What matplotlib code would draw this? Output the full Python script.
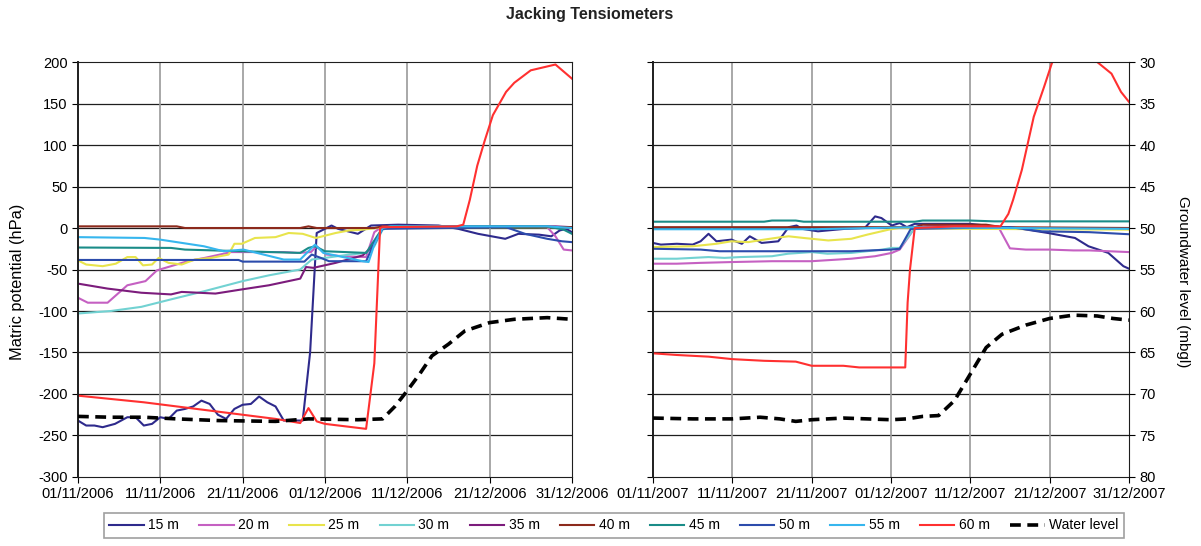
import matplotlib
matplotlib.use("Agg")
import matplotlib.pyplot as plt

plt.rcParams['font.family'] = ['Liberation Sans', 'DejaVu Sans']
plt.rcParams['axes.unicode_minus'] = False

# day offsets from 01/11 on the x axis, values in hPa (tensiometers) or mbgl (water level)
tick_days = [0, 10, 20, 30, 40, 50, 60]
ticks_2006 = ["01/11/2006", "11/11/2006", "21/11/2006", "01/12/2006",
              "11/12/2006", "21/12/2006", "31/12/2006"]
ticks_2007 = ["01/11/2007", "11/11/2007", "21/11/2007", "01/12/2007",
              "11/12/2007", "21/12/2007", "31/12/2007"]
hpa_ticks = [-300, -250, -200, -150, -100, -50, 0, 50, 100, 150, 200]
mbgl_ticks = [30, 35, 40, 45, 50, 55, 60, 65, 70, 75, 80]

labels = ["15 m", "20 m", "25 m", "30 m", "35 m", "40 m", "45 m", "50 m", "55 m", "60 m"]
colors = ["#2e2a8c", "#c560c2", "#e8e44c", "#72d2d2", "#7c1c7c",
          "#8c2a1c", "#1a8c88", "#2c4cac", "#36b6ee", "#ff3030"]

# ---- 2006 ----
p15_2006 = [(0, -232), (1, -238), (2, -238), (3, -240), (4.5, -236), (6, -228), (7, -228),
            (8, -238), (9, -236), (10, -228), (11, -230), (12, -220), (13, -218), (14, -215),
            (15, -208), (16, -212), (17, -225), (18, -230), (19, -218), (20, -213), (21, -212),
            (22, -203), (23, -210), (24, -215), (25, -232), (27.3, -232), (28.2, -150),
            (29, -6), (30.8, 3), (31.6, -1), (34, -7), (35.6, 3), (38.9, 4), (43.8, 3),
            (46.2, -1), (48.6, -7), (51.9, -13), (53.5, -7), (56, -8), (57.5, -10),
            (58.5, -3), (59.3, -1), (60, -5)]
p20_2006 = [(0, -84), (1.2, -90), (3.6, -90), (6, -69), (8.2, -64), (9.6, -51), (11.3, -46),
            (13.3, -40), (15.4, -36), (18.6, -29), (21.9, -29), (25, -29), (26.7, -30),
            (28.3, -29), (29, -22), (30.2, -32), (32, -34), (35, -35), (36, -5), (37, 2),
            (45, 2), (52, 2), (57, 1), (58, -10), (59, -26), (60, -27)]
p25_2006 = [(0, -39), (1, -44), (3, -46), (4.6, -43), (6, -35), (7, -35), (7.9, -45),
            (9, -44), (9.8, -36), (11, -42), (12.6, -44), (14.2, -38), (16.2, -36),
            (18.3, -32), (19, -19), (19.9, -19), (21.5, -12), (24, -11), (25.6, -6),
            (27.3, -7), (28.9, -12), (31.3, -6), (32.9, -3), (34.6, -2), (37, 1), (60, 1)]
p30_2006 = [(0, -103), (4, -100), (7.7, -95), (11.3, -86), (15.4, -76), (20, -64),
            (23.2, -57), (27, -50), (28.4, -38), (30, -36), (33, -32), (35, -30), (36, -22),
            (37, -2), (38, 1), (60, 1)]
p35_2006 = [(0, -67), (3.6, -73), (7.7, -78), (11.3, -80), (12.6, -77), (16.7, -79),
            (19.9, -74), (23.2, -69), (27, -61), (27.7, -47), (28.6, -48), (31.3, -42),
            (34.6, -33), (36, -20), (37, 0), (38, 2), (58, 2), (60, 1)]
p40_2006 = [(0, 2), (12, 2), (13, 0), (27, 0), (28, 2), (29, 0), (36, 0), (37, 2), (60, 1)]
p45_2006 = [(0, -23.5), (11.3, -24), (13, -26), (20, -28), (27, -30), (28, -24), (28.8, -22),
            (30, -28), (35, -30), (36, -15), (37, 0), (38, 2), (57, 2), (59, -2), (60, -7)]
p50_2006 = [(0, -38.5), (19.5, -38.5), (20, -40.5), (27.5, -40.5), (28.4, -32), (29.5, -36),
            (30.5, -40), (35, -40), (36, -18), (37, -1), (52, 1), (54.3, -7), (57, -13),
            (58.8, -16), (60, -17)]
p55_2006 = [(0, -11), (8.1, -12), (10, -14), (15.3, -22), (17.7, -28), (20.1, -26),
            (25, -38), (27, -38), (28.8, -20), (29.8, -30), (34.6, -40), (35.3, -41),
            (36, -20), (37, 0), (38, 2), (57, 2), (60, 0)]
p60_2006 = [(0, -202), (3, -205), (8, -210), (12, -215), (16, -220), (20, -225), (24, -230),
            (27, -235), (28, -217), (29, -233), (30, -236), (35, -242), (36, -163),
            (36.7, 0), (37, 1), (46, 2), (46.8, 4), (47.6, 34), (48.5, 75), (49.4, 105),
            (50.4, 136), (52, 164), (53, 175), (55, 190), (58, 197), (60, 180)]
water_2006 = [(0, 72.7), (4, 72.8), (8, 72.8), (12, 73.0), (17, 73.2), (24, 73.3), (28, 73.0),
              (34, 73.1), (37, 73.0), (38.5, 71.5), (40, 69.6), (41.5, 67.6), (43, 65.4),
              (45, 64.0), (47, 62.4), (50, 61.4), (53, 61.0), (57, 60.8), (60, 61.0)]

# ---- 2007 ----
p15_2007 = [(0, -18), (1, -20), (3, -19), (5, -20), (6, -16), (7, -7), (8, -16), (9.9, -14),
            (11.2, -19), (12.2, -10), (13.7, -18), (15.8, -16), (17.1, 1), (18.1, 3),
            (18.8, -1), (20.8, -4), (24.2, -1), (26.7, 0), (28, 14), (28.8, 12), (30.1, 3),
            (31.1, 6), (32, 1), (33, 5), (40, 5), (45, 0), (46.5, -1), (49.8, -6),
            (53.2, -12), (54.9, -22), (57.4, -30), (59.3, -46), (60, -49)]
p20_2007 = [(0, -43), (3, -43), (6, -42), (10, -41), (15, -40), (20, -40), (25, -37),
            (28, -34), (30.1, -30), (31.1, -26), (33, 0), (35, 3), (43.5, 2), (45, -24.5),
            (47, -26), (50, -26), (53, -27), (55, -27), (60, -29)]
p25_2007 = [(0, -23), (5, -22), (8, -19), (9.9, -16), (12, -17), (14, -14), (15.8, -11.5),
            (17.1, -10), (19, -12), (22.1, -15), (25, -13), (27, -8), (29.7, -2), (31, 0),
            (40, -1), (60, -2)]
p30_2007 = [(0, -37), (3, -37), (7, -35), (9, -36), (11, -35), (15, -34), (17, -31),
            (20, -29), (22, -31), (25, -30), (28.9, -26), (30.1, -24), (31.1, -24),
            (33, 0), (60, 0)]
p40_2007 = [(0, 1), (33, 1), (34, 4), (42, 4), (44, 1), (60, 0)]
p45_2007 = [(0, 7.6), (14, 7.6), (15, 9), (18, 9), (19, 7.6), (33, 7.6), (34, 9), (40, 9),
            (43, 8), (60, 8)]
p50_2007 = [(0, -25), (6, -26), (8.4, -28), (25, -28), (30, -26), (31.1, -25), (32.5, -1),
            (45, 1), (49, -4), (55, -5), (60, -7.5)]
p55_2007 = [(0, -1.5), (20, -1.5), (33, 1), (45, 0), (60, -1)]
p60_2007 = [(0, -151), (3, -153), (7, -155), (10, -158), (14, -160), (18, -161), (20, -166),
            (24, -166), (26, -168), (31.8, -168), (32.1, -90), (32.4, -50), (33, 0), (38, 2),
            (43.8, 2), (44.8, 17), (45.4, 34), (46.5, 70), (48, 134), (49.3, 170),
            (50.3, 199), (52, 220), (54, 225), (56, 200), (57.8, 186), (59, 164), (60, 152)]
water_2007 = [(0, 72.9), (5, 73.0), (10, 73.0), (13.5, 72.8), (16, 73.0), (18, 73.3),
              (20, 73.1), (24, 72.9), (30, 73.1), (32, 73.0), (34, 72.7), (36, 72.6),
              (38, 70.8), (40, 67.6), (42, 64.4), (44, 62.8), (47, 61.7), (50, 60.9),
              (53, 60.5), (56, 60.6), (58, 60.9), (60, 61.1)]

series_2006 = [p15_2006, p20_2006, p25_2006, p30_2006, p35_2006,
               p40_2006, p45_2006, p50_2006, p55_2006, p60_2006]
series_2007 = [p15_2007, p20_2007, p25_2007, p30_2007, None,
               p40_2007, p45_2007, p50_2007, p55_2007, p60_2007]


def draw_panel(ax, series, water, ticklabels, left_labels, right_labels):
    ax.set_xlim(0, 60)
    ax.set_ylim(-300, 200)
    ax.set_xticks(tick_days)
    ax.set_xticklabels(ticklabels)
    ax.set_yticks(hpa_ticks)
    for v in hpa_ticks[1:-1]:
        ax.axhline(v, color="#1e1e1e", lw=0.9, zorder=0.5)
    for d in tick_days[1:-1]:
        ax.axvline(d, color="#9a9a9a", lw=1.2, zorder=0.5)
    ax.tick_params(direction="out", length=4, width=0.8, labelsize=10.5)
    if not left_labels:
        ax.tick_params(axis="y", labelleft=False)
    for sp in ax.spines.values():
        sp.set_color("#1e1e1e")
    ax.spines["left"].set_linewidth(1.4)

    for pts, c, lab in zip(series, colors, labels):
        if pts is None:
            continue
        xs, ys = zip(*pts)
        ax.plot(xs, ys, color=c, lw=1.5, label=lab)

    ax2 = ax.twinx()
    ax2.set_ylim(80, 30)
    ax2.set_yticks(mbgl_ticks)
    xs, ys = zip(*water)
    ax2.plot(xs, ys, color="black", lw=2.6, dashes=(3, 1.8), label="Water level")
    ax2.tick_params(direction="out", length=4, width=0.8, labelsize=10.5)
    if not right_labels:
        ax2.tick_params(axis="y", labelright=False, length=0)
    for sp in ax2.spines.values():
        sp.set_visible(False)
    return ax2


def main():
    fig = plt.figure(figsize=(12.01, 5.46), dpi=100)
    ax_l = fig.add_axes([0.0649, 0.1264, 0.4113, 0.76])
    ax_r = fig.add_axes([0.5437, 0.1264, 0.3963, 0.76])

    draw_panel(ax_l, series_2006, water_2006, ticks_2006, True, False)
    ax_r2 = draw_panel(ax_r, series_2007, water_2007, ticks_2007, False, True)

    fig.text(0.491, 0.974, "Jacking Tensiometers", ha="center", va="center",
             fontsize=11.5, fontweight="bold", color="#222222")
    fig.text(0.0145, 0.484, "Matric potential (hPa)", rotation=90,
             ha="center", va="center", fontsize=11.8)
    fig.text(0.985, 0.484, "Groundwater level (mbgl)", rotation=270,
             ha="center", va="center", fontsize=11)

    handles, labs = ax_l.get_legend_handles_labels()
    wh, wl = ax_r2.get_legend_handles_labels()
    leg = fig.legend(handles + wh, labs + wl, loc="lower center",
                     bbox_to_anchor=(0.511, 0.002), ncol=11, fontsize=10,
                     frameon=True, fancybox=False, edgecolor="#888888",
                     handlelength=2.5, handletextpad=0.3, columnspacing=1.45,
                     borderpad=0.4)
    leg.get_frame().set_linewidth(1.2)

    fig.savefig("out.png", dpi=100)


if __name__ == "__main__":
    main()
